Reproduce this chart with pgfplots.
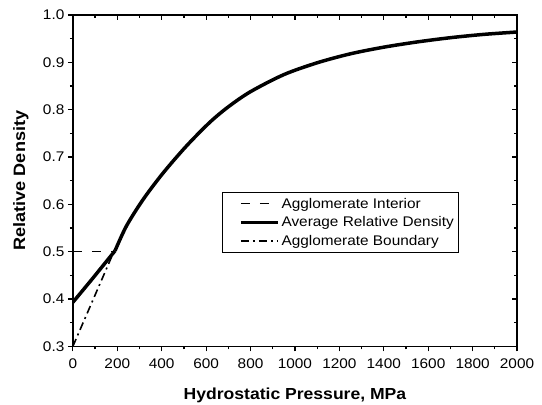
\documentclass[border=0pt]{standalone}
\usepackage{fontspec}
\setmainfont[FakeStretch=1.1]{Liberation Sans}
\usepackage{pgfplots}
\pgfplotsset{compat=1.18}
\begin{document}
\begin{tikzpicture}
  \pgfplotsset{
    densitybase/.style={
      width=445pt, height=332pt,
      scale only axis,
      xmin=0, xmax=2000,
      ymin=0.3, ymax=1.0,
      xtick={0,200,...,2000},
      ytick={0.3,0.4,...,1.0},
      minor x tick num=1,
      minor y tick num=1,
      axis line style={line width=1.6pt},
      major tick style={line width=1.2pt, black},
      minor tick style={line width=1.2pt, black},
      major tick length=5pt,
      minor tick length=3pt,
    }
  }
  % bottom/left: ticks outside, labels
  \begin{axis}[
    densitybase,
    name=ax,
    xtick pos=bottom, ytick pos=left,
    tick align=outside,
    /pgf/number format/assume math mode=true,
    tick label style={font=\fontsize{14}{16}\selectfont},
    xticklabel style={/pgf/number format/1000 sep={}, yshift=-4pt},
    yticklabel style={/pgf/number format/fixed, /pgf/number format/fixed zerofill, /pgf/number format/precision=1},
    xlabel={Hydrostatic Pressure, MPa},
    ylabel={Relative Density},
    xlabel style={font=\fontsize{16}{19}\selectfont\bfseries,
      at={(axis description cs:0.5,-0.148)}, anchor=center},
    ylabel style={font=\fontsize{16.5}{19}\selectfont\bfseries,
      at={(axis description cs:-0.117,0.5)}, anchor=center},
    legend cell align=left,
    legend style={
      at={(0.335,0.466)}, anchor=north west,
      draw=black, line width=1pt,
      font=\fontsize{14}{17}\selectfont,
      inner xsep=3pt, inner ysep=3.5pt,
      row sep=3pt,
      /tikz/every even column/.append style={column sep=0pt},
    },
    legend image code/.code={\path (0pt,0pt); \draw[#1] (14pt,0pt) -- (51pt,0pt);},
  ]

  % Agglomerate interior
  \addplot[black, line width=1.5pt, dash pattern=on 9pt off 10pt] coordinates {
    (0,0.5) (185,0.5)
  };
  \addlegendentry{Agglomerate Interior}

  % Average relative density (upper, smooth part)
  \addplot[black, line width=3.5pt, smooth, tension=0.5] coordinates {
    (190,0.502) (241,0.554) (316,0.610) (406,0.666) (511,0.723) (616,0.773)
    (700,0.806) (800,0.838) (950,0.874) (1100,0.899) (1250,0.918)
    (1400,0.932) (1550,0.943) (1700,0.952) (1850,0.959) (2000,0.964)
  };
  \addlegendentry{Average Relative Density}

  % Agglomerate boundary
  \addplot[black, line width=1.6pt, dash pattern=on 8pt off 4pt on 2pt off 4pt] coordinates {
    (0,0.300) (180,0.495)
  };
  \addlegendentry{Agglomerate Boundary}

  % Average relative density (lower, linear part)
  \addplot[black, line width=3.5pt, forget plot] coordinates {
    (0,0.393) (90,0.444) (190,0.502)
  };

  \end{axis}

  % top/right: ticks inside, no labels
  \begin{axis}[
    densitybase,
    xtick pos=top, ytick pos=right,
    tick align=inside,
    xticklabels={}, yticklabels={},
  ]
  \end{axis}

  \pgfresetboundingbox
  \useasboundingbox ([shift={(-73pt,-58pt)}]ax.south west)
    rectangle ([shift={(25pt,15pt)}]ax.north east);
\end{tikzpicture}
\end{document}
